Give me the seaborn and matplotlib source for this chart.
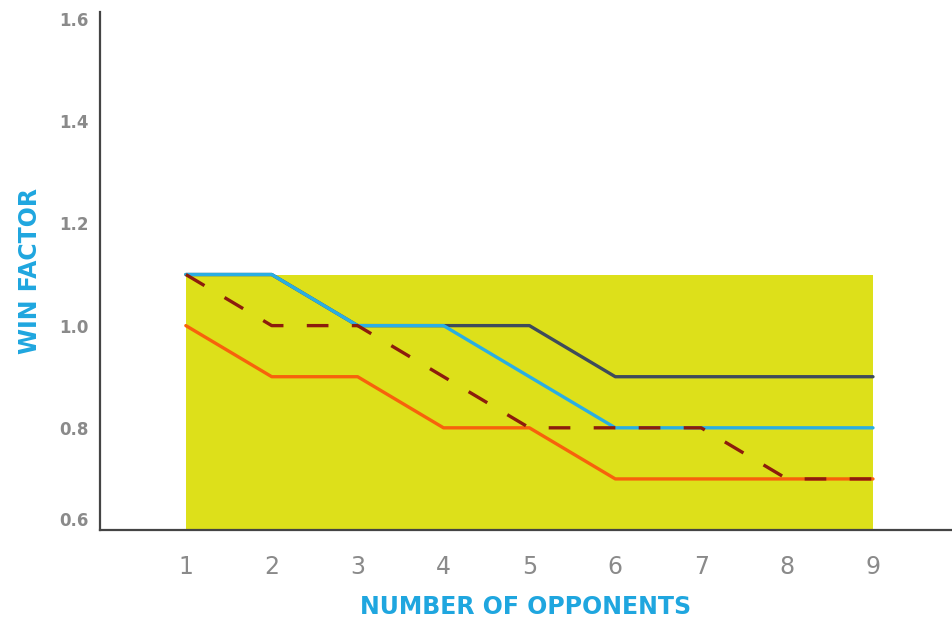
import numpy as np
import pandas as pd
import matplotlib
matplotlib.use('Agg')
import matplotlib.pyplot as plt
import seaborn as sns

# values
opponents = [1, 2, 3, 4, 5, 6, 7, 8, 9]
gray_line = [1.1, 1.1, 1.0, 1.0, 1.0, 0.9, 0.9, 0.9, 0.9]
blue_line = [1.1, 1.1, 1.0, 1.0, 0.9, 0.8, 0.8, 0.8, 0.8]
dashed_line = [1.1, 1.0, 1.0, 0.9, 0.8, 0.8, 0.8, 0.7, 0.7]
orange_line = [1.0, 0.9, 0.9, 0.8, 0.8, 0.7, 0.7, 0.7, 0.7]
band_top = 1.1
y_ticks = [0.6, 0.8, 1.0, 1.2, 1.4, 1.6]

sns.set_theme(style='white')
plt.rcParams['font.family'] = ['DejaVu Sans']

fig = plt.figure(figsize=(9.52, 6.24), dpi=100)
ax = fig.add_axes([0.105, 0.1506, 0.895, 0.8304])

ax.fill_between(opponents, 0.6, band_top, color='#dde01a', lw=0, zorder=1)

df = pd.DataFrame({'opp': opponents, 'gray': gray_line, 'blue': blue_line,
                   'dashed': dashed_line, 'orange': orange_line})

sns.lineplot(data=df, x='opp', y='orange', color='#f7620c', lw=2.4, ax=ax, zorder=3)
sns.lineplot(data=df, x='opp', y='gray', color='#3e4b5b', lw=2.4, ax=ax, zorder=3)
sns.lineplot(data=df, x='opp', y='blue', color='#2aaee3', lw=2.4, ax=ax, zorder=4)
sns.lineplot(data=df, x='opp', y='dashed', color='#8c1c0c', lw=2.4, ax=ax, zorder=5,
             dashes=False, linestyle=(0, (6.5, 7)))

ax.set_xlim(0, 9.92)
ax.set_ylim(0.6, 1.614)
ax.set_xticks(opponents)
ax.set_yticks(y_ticks)
ax.set_xticklabels([str(o) for o in opponents], fontsize=17, color='#8a8a8a')
ax.set_yticklabels(['%.1f' % t for t in y_ticks], fontsize=12, color='#8a8a8a',
                   fontweight='bold')
ax.get_yticklabels()[0].set_va('bottom')
ax.tick_params(axis='x', length=0, pad=18)
ax.tick_params(axis='y', length=0, pad=8)

ax.set_xlabel('NUMBER OF OPPONENTS', fontsize=17, color='#1fa6df', fontweight='bold')
ax.set_ylabel('WIN FACTOR', fontsize=17, color='#1fa6df', fontweight='bold')
ax.xaxis.set_label_coords(0.5, -0.149)
ax.xaxis.label.set_va('center')
ax.xaxis.label.set_x(0.5)
ax.yaxis.set_label_coords(-0.082, 0.5)
ax.yaxis.label.set_va('center')

for s in ['top', 'right']:
    ax.spines[s].set_visible(False)
for s in ['left', 'bottom']:
    ax.spines[s].set_color('#444444')
    ax.spines[s].set_linewidth(1.6)

ax.grid(False)
fig.savefig('out.png', dpi=100)
